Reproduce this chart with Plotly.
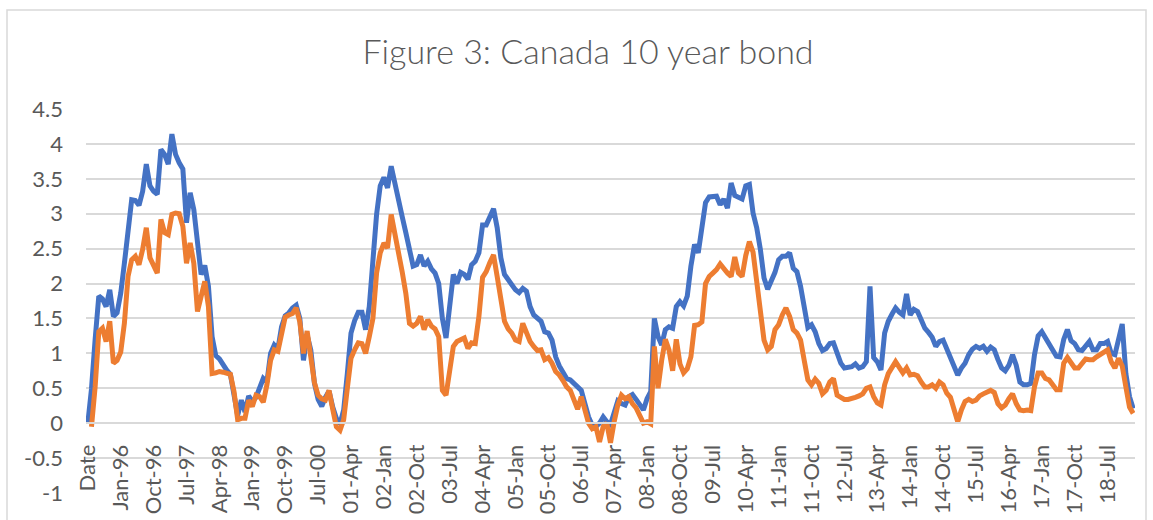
import plotly.graph_objects as go
import pandas as pd

# ---- categories (first cell is the "Date" header, then monthly from May-95) ----
months = pd.date_range("1995-05-01", periods=286, freq="MS")
CATEGORIES = ["Date"] + [
    (d.strftime("%b-%y") if d.year <= 2000 else d.strftime("%y-%b")) for d in months
]

TICK_LABELS = ["Date", "Jan-96", "Oct-96", "Jul-97", "Apr-98", "Jan-99", "Oct-99", "Jul-00",
               "01-Apr", "02-Jan", "02-Oct", "03-Jul", "04-Apr", "05-Jan", "05-Oct", "06-Jul",
               "07-Apr", "08-Jan", "08-Oct", "09-Jul", "10-Apr", "11-Jan", "11-Oct", "12-Jul",
               "13-Apr", "14-Jan", "14-Oct", "15-Jul", "16-Apr", "17-Jan", "17-Oct", "18-Jul"]

Y_TICKS = [-1, -0.5, 0, 0.5, 1, 1.5, 2, 2.5, 3, 3.5, 4, 4.5]
Y_TICK_TEXT = ["-1", "-0.5", "0", "0.5", "1", "1.5", "2", "2.5", "3", "3.5", "4", "4.5"]

BLUE = [
    0.0, 0.49, 1.2, 1.82, 1.78, 1.67, 1.91, 1.53, 1.58, 1.86,
    2.29, 2.7, 3.2, 3.19, 3.12, 3.32, 3.71, 3.4, 3.32, 3.28,
    3.92, 3.85, 3.71, 4.14, 3.85, 3.73, 3.64, 2.87, 3.3, 3.06,
    2.53, 2.13, 2.26, 1.96, 1.24, 0.97, 0.92, 0.83, 0.76, 0.7,
    0.43, 0.11, 0.33, 0.16, 0.39, 0.31, 0.37, 0.52, 0.64, 0.59,
    1.0, 1.12, 1.06, 1.38, 1.54, 1.58, 1.65, 1.69, 1.5, 0.9,
    1.26, 1.05, 0.57, 0.34, 0.24, 0.37, 0.46, 0.23, 0.07, -0.01,
    0.19, 0.71, 1.29, 1.47, 1.59, 1.59, 1.34, 1.67, 2.39, 2.99,
    3.4, 3.52, 3.37, 3.68, 3.44, 3.16, 2.96, 2.73, 2.44, 2.25,
    2.27, 2.41, 2.25, 2.32, 2.21, 2.15, 2.0, 1.5, 1.22, 1.77,
    2.13, 2.0, 2.16, 2.13, 2.06, 2.27, 2.32, 2.44, 2.84, 2.84,
    2.95, 3.07, 2.8, 2.37, 2.13, 2.06, 2.0, 1.91, 1.87, 1.93,
    1.89, 1.67, 1.55, 1.5, 1.46, 1.31, 1.29, 1.19, 0.95, 0.82,
    0.72, 0.64, 0.62, 0.57, 0.5, 0.47, 0.28, 0.09, -0.03, -0.05,
    0.0, 0.09, 0.02, -0.02, 0.15, 0.32, 0.28, 0.26, 0.38, 0.41,
    0.34, 0.26, 0.19, 0.35, 0.45, 1.5, 1.24, 1.12, 1.34, 1.38,
    1.36, 1.67, 1.74, 1.68, 1.82, 2.25, 2.56, 2.44, 2.77, 3.16,
    3.24, 3.24, 3.25, 3.13, 3.21, 3.08, 3.44, 3.26, 3.23, 3.21,
    3.4, 3.42, 3.01, 2.8, 2.49, 2.08, 1.92, 2.03, 2.16, 2.34,
    2.39, 2.39, 2.44, 2.22, 2.17, 1.96, 1.62, 1.37, 1.41, 1.31,
    1.14, 1.04, 1.07, 1.14, 1.15, 0.98, 0.86, 0.79, 0.8, 0.81,
    0.85, 0.79, 0.81, 0.88, 1.96, 0.94, 0.88, 0.76, 1.29, 1.46,
    1.56, 1.65, 1.59, 1.55, 1.85, 1.55, 1.63, 1.6, 1.48, 1.36,
    1.3, 1.23, 1.1, 1.17, 1.19, 1.07, 0.91, 0.81, 0.69, 0.79,
    0.86, 0.98, 1.06, 1.1, 1.07, 1.1, 1.03, 1.09, 1.05, 0.91,
    0.79, 0.75, 0.83, 0.98, 0.83, 0.59, 0.55, 0.55, 0.57, 0.98,
    1.25, 1.31, 1.22, 1.15, 1.07, 0.96, 0.95, 1.2, 1.34, 1.18,
    1.14, 1.05, 1.04, 1.1, 1.17, 1.05, 1.05, 1.14, 1.14, 1.17,
    1.0, 0.98, 1.19, 1.42, 0.71, 0.38, 0.21,
]

ORANGE = [
    None, -0.05, 0.52, 1.31, 1.36, 1.17, 1.46, 0.86, 0.9, 1.02,
    1.43, 2.1, 2.34, 2.39, 2.27, 2.49, 2.8, 2.37, 2.25, 2.15,
    2.92, 2.73, 2.7, 2.99, 3.01, 3.0, 2.82, 2.29, 2.58, 2.29,
    1.6, 1.8, 2.03, 1.67, 0.71, 0.72, 0.74, 0.73, 0.72, 0.7,
    0.45, 0.05, 0.07, 0.07, 0.33, 0.24, 0.4, 0.38, 0.3, 0.55,
    0.9, 1.05, 1.03, 1.3, 1.52, 1.55, 1.57, 1.65, 1.45, 1.0,
    1.32, 0.95, 0.58, 0.4, 0.35, 0.33, 0.47, 0.2, -0.05, -0.1,
    0.05, 0.5, 0.93, 1.05, 1.15, 1.14, 1.0, 1.24, 1.5, 2.15,
    2.44, 2.58, 2.51, 2.99, 2.75, 2.44, 2.17, 1.86, 1.43, 1.39,
    1.43, 1.53, 1.34, 1.48, 1.39, 1.35, 1.24, 0.47, 0.4, 0.76,
    1.1, 1.17, 1.2, 1.22, 1.07, 1.15, 1.14, 1.53, 2.09, 2.17,
    2.3, 2.41, 2.1, 1.72, 1.46, 1.35, 1.29, 1.19, 1.17, 1.43,
    1.31, 1.17, 1.1, 1.04, 1.05, 0.91, 0.94, 0.86, 0.74, 0.69,
    0.61, 0.52, 0.47, 0.35, 0.2, 0.38, 0.19, 0.0, -0.08, -0.05,
    -0.27, -0.05, 0.0, -0.28, 0.02, 0.26, 0.4, 0.35, 0.38, 0.28,
    0.22, 0.11, 0.0, 0.02, -0.01, 1.1, 0.5, 0.9, 1.2, 1.05,
    0.75, 1.2, 0.85, 0.72, 0.78, 0.95, 1.4, 1.41, 1.45, 2.0,
    2.1, 2.15, 2.2, 2.28, 2.2, 2.15, 2.1, 2.38, 2.15, 2.1,
    2.4, 2.6, 2.45, 2.05, 1.67, 1.19, 1.05, 1.1, 1.34, 1.41,
    1.55, 1.65, 1.53, 1.34, 1.29, 1.19, 0.9, 0.62, 0.55, 0.63,
    0.57, 0.42, 0.47, 0.59, 0.64, 0.4, 0.37, 0.34, 0.34, 0.35,
    0.37, 0.39, 0.42, 0.5, 0.52, 0.38, 0.29, 0.26, 0.55, 0.71,
    0.8, 0.88, 0.8, 0.72, 0.79, 0.69, 0.7, 0.68, 0.59, 0.52,
    0.52, 0.55, 0.5, 0.59, 0.55, 0.43, 0.37, 0.19, 0.02, 0.19,
    0.31, 0.34, 0.31, 0.33, 0.39, 0.42, 0.45, 0.47, 0.44, 0.28,
    0.22, 0.26, 0.35, 0.42, 0.28, 0.19, 0.18, 0.19, 0.18, 0.52,
    0.72, 0.72, 0.64, 0.62, 0.55, 0.48, 0.48, 0.86, 0.94, 0.85,
    0.79, 0.79, 0.85, 0.92, 0.91, 0.91, 0.95, 0.99, 1.02, 1.05,
    0.88, 0.79, 0.93, 0.82, 0.52, 0.23, 0.14,
]

W, H = 1153, 520
ML, MR, MT, MB = 86, 18, 109, 27
PW, PH = W - ML - MR, H - MT - MB

FONT = "Lato"
GREY = "#595959"
GRID = "#D9D9D9"

fig = go.Figure()
fig.add_trace(go.Scatter(x=CATEGORIES, y=BLUE, mode="lines", name="Series 1",
                         line=dict(color="#4472C4", width=5)))
fig.add_trace(go.Scatter(x=CATEGORIES, y=ORANGE, mode="lines", name="Series 2",
                         line=dict(color="#ED7D31", width=5)))

fig.update_layout(
    width=W, height=H,
    margin=dict(l=ML, r=MR, t=MT, b=MB, pad=0, autoexpand=False),
    paper_bgcolor="white", plot_bgcolor="white",
    showlegend=False,
    title=dict(text="Figure 3: Canada 10 year bond",
               font=dict(family=FONT, size=34, color=GREY, weight=300),
               x=0.51, xref="container", xanchor="center",
               y=1 - 52 / H, yref="container", yanchor="middle"),
    xaxis=dict(type="category", categoryorder="array", categoryarray=CATEGORIES,
               range=[-0.5, len(CATEGORIES) - 0.5], automargin=False,
               anchor="free", position=1 / 5.5,
               showgrid=False, zeroline=False,
               showline=True, linecolor=GRID, linewidth=1.5,
               tickmode="array", tickvals=TICK_LABELS, ticktext=TICK_LABELS,
               tickangle=-90, ticks="", ticklabelstandoff=12,
               tickfont=dict(family=FONT, size=22, color=GREY)),
    yaxis=dict(range=[-1, 4.5], tickmode="array", tickvals=Y_TICKS, ticktext=Y_TICK_TEXT,
               automargin=False,
               showgrid=True, gridcolor=GRID, gridwidth=1.5,
               zeroline=False, showline=False, ticks="", ticklabelstandoff=22,
               tickfont=dict(family=FONT, size=22, color=GREY)),
    shapes=[dict(type="rect", xref="paper", yref="paper",
                 x0=(7 - ML) / PW, x1=(1146 - ML) / PW,
                 y0=(H - MB - 535) / PH, y1=(H - MB - 10) / PH,
                 line=dict(color=GRID, width=1.5), fillcolor="rgba(0,0,0,0)", layer="below")],
)

fig.write_html("out.html", config={"displayModeBar": False},
               post_script="document.body.style.margin='0';")
